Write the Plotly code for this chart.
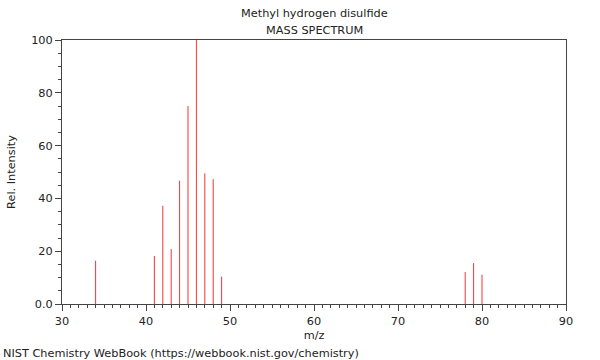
import plotly.graph_objects as go

mz = [34, 41, 42, 43, 44, 45, 46, 47, 48, 49, 78, 79, 80]
intensity = [16.4, 18.2, 37.2, 20.8, 46.7, 75.0, 100.0, 49.5, 47.3, 10.4, 12.1, 15.5, 11.1]

title_line1 = "Methyl hydrogen disulfide"
title_line2 = "MASS SPECTRUM"
y_tickvals = [0, 20, 40, 60, 80, 100]
y_ticktext = ["0.0", "20", "40", "60", "80", "100"]
x_tickvals = [30, 40, 50, 60, 70, 80, 90]

xs, ys = [], []
for m, i in zip(mz, intensity):
    xs += [m, m, None]
    ys += [0, i, None]

font = "DejaVu Sans"
fs = 11.3
fig = go.Figure()
fig.add_trace(go.Scatter(x=xs, y=ys, mode="lines",
                         line=dict(color="#ff3333", width=1), hoverinfo="skip",
                         showlegend=False))

axcol = "#444444"
fig.update_layout(
    width=600, height=360,
    margin=dict(l=62, r=34, t=40, b=56),
    paper_bgcolor="white", plot_bgcolor="white",
    font=dict(family=font, size=fs, color="#222222"),
    showlegend=False,
    xaxis=dict(range=[30, 90], tickvals=x_tickvals, ticks="outside", ticklen=6,
               tickcolor=axcol, showline=True, linecolor=axcol, linewidth=1,
               mirror=True, showgrid=False, zeroline=False, automargin=False,
               minor=dict(dtick=1, ticks="outside", ticklen=3, tickcolor=axcol),
               title=dict(text="m/z", font=dict(size=fs), standoff=4),
               tickfont=dict(size=fs)),
    yaxis=dict(range=[0, 100], tickvals=y_tickvals, ticktext=y_ticktext,
               ticks="outside", ticklen=6, tickcolor=axcol, showline=True,
               linecolor=axcol, linewidth=1, mirror=True, showgrid=False,
               zeroline=False, automargin=False,
               minor=dict(dtick=5, ticks="outside", ticklen=3, tickcolor=axcol),
               title=dict(text="Rel. Intensity", font=dict(size=fs), standoff=13),
               tickfont=dict(size=fs)),
)

fig.add_annotation(text=title_line1, xref="paper", yref="paper", x=0.5, y=1,
                   yshift=27, showarrow=False, font=dict(size=fs), xanchor="center",
                   yanchor="middle")
fig.add_annotation(text=title_line2, xref="paper", yref="paper", x=0.5, y=1,
                   yshift=10, showarrow=False, font=dict(size=fs), xanchor="center",
                   yanchor="middle")
fig.add_annotation(text="NIST Chemistry WebBook (https://webbook.nist.gov/chemistry)",
                   xref="paper", yref="paper", x=0, y=0, xshift=-61, yshift=-49,
                   showarrow=False, font=dict(size=fs), xanchor="left",
                   yanchor="middle")

fig.write_html("out.html", config={"displayModeBar": False},
               post_script="document.body.style.margin='0px';")
